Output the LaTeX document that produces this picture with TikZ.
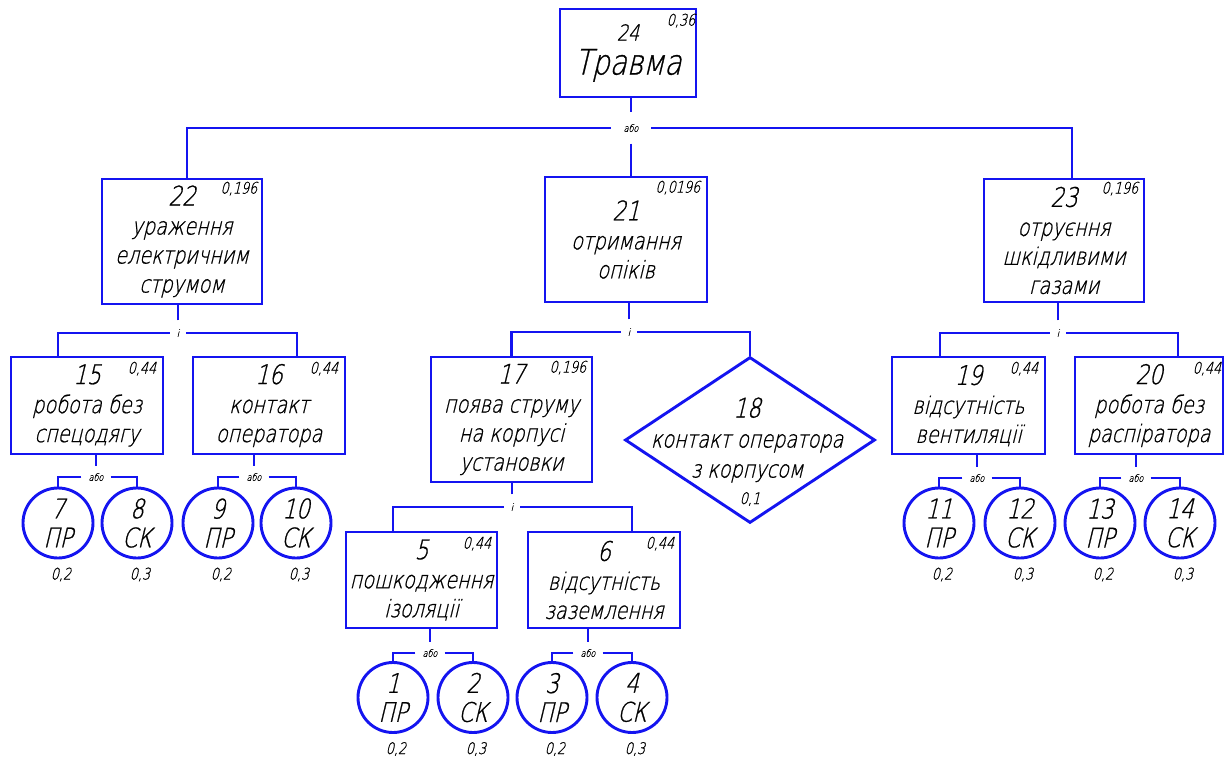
\documentclass[tikz,border=0pt]{standalone}
\usepackage{fontspec}
\setmainfont{DejaVu Sans ExtraLight}[FakeSlant=0.24,FakeStretch=0.8,FakeBold=0.8]
\usetikzlibrary{shapes.geometric,calc}
\definecolor{lineblue}{RGB}{20,20,240}
\newcommand{\numf}{\fontsize{27}{29}\selectfont}
\tikzset{
  box/.style={draw=lineblue, line width=2.9pt, rectangle, inner sep=0pt, align=center, font=\fontsize{24}{29}\selectfont},
  ev/.style={draw=lineblue, line width=2.9pt, circle, minimum size=70pt, inner sep=0pt, align=center, font=\fontsize{27}{29}\selectfont},
  diam/.style={draw=lineblue, line width=2.9pt, diamond, minimum width=250pt, minimum height=166pt, inner sep=0pt},
  txt/.style={align=center, inner sep=0pt, font=\fontsize{24}{30}\selectfont},
  prob/.style={font=\fontsize{16}{16}\selectfont, inner sep=0pt},
  gor/.style={font=\fontsize{10}{10}\selectfont, inner sep=0pt, minimum width=29pt, minimum height=22pt},
  gortop/.style={font=\fontsize{10}{10}\selectfont, inner sep=0pt, minimum width=40pt, minimum height=31pt},
  gand/.style={font=\fontsize{10}{10}\selectfont, inner sep=0pt, minimum width=16pt, minimum height=25pt},
  conn/.style={draw=lineblue, line width=2.9pt},
}
\begin{document}
\begin{tikzpicture}[x=1pt,y=-1pt]
\useasboundingbox (0,0) rectangle (1229,757);

% ---------- level 0 ----------
\node[box, minimum width=136pt, minimum height=88pt] (b24) at (628,53)
  {{\fontsize{22}{22}\selectfont 24}\\[5pt]{\fontsize{35}{35}\selectfont Травма}};
\node[prob, anchor=north east] (p24) at ([shift={(-2,6)}]b24.north east) {0,36};
\node[gortop] (or1) at (631,128) {або};

% ---------- level 1 ----------
\node[box, minimum width=160pt, minimum height=125pt] (b22) at (182,241.5)
  {{\numf 22}\\ураження\\електричним\\струмом};
\node[prob, anchor=north east] (p22) at ([shift={(-6,4)}]b22.north east) {0,196};
\node[box, minimum width=162pt, minimum height=125pt] (b21) at (626,239.5)
  {{\numf 21}\\отримання\\опіків};
\node[prob, anchor=north east] (p21) at ([shift={(-8,5)}]b21.north east) {0,0196};
\node[box, minimum width=160pt, minimum height=123pt] (b23) at (1064,240.5)
  {{\numf 23}\\отруєння\\шкідливими\\газами};
\node[prob, anchor=north east] (p23) at ([shift={(-7,4)}]b23.north east) {0,196};

\draw[conn] (or1.north |- b24.south) -- (or1.north);
\draw[conn] (or1.west) -| ([xshift=5pt]b22.north);
\draw[conn] (or1.east) -| ([xshift=8pt]b23.north);
\draw[conn] (or1.south) -- (or1.south |- b21.north);

% ---------- branch 22 ----------
\node[gand] (i1) at (178,333) {і};
\node[box, minimum width=152pt, minimum height=97pt] (b15) at (87,405.5)
  {{\numf 15}\\робота без\\спецодягу};
\node[prob, anchor=north east] (p15) at ([shift={(-8,6)}]b15.north east) {0,44};
\node[box, minimum width=152pt, minimum height=97pt] (b16) at (269,405.5)
  {{\numf 16}\\контакт\\оператора};
\node[prob, anchor=north east] (p16) at ([shift={(-8,6)}]b16.north east) {0,44};
\draw[conn] (i1.north) -- (i1.north |- b22.south);
\draw[conn] (i1.west) -| ([xshift=-29pt]b15.north);
\draw[conn] (i1.east) -| ([xshift=28pt]b16.north);

\node[gor] (o15) at (96,477) {або};
\node[ev] (c7) at (58,523) {7\\ПР};
\node[ev] (c8) at (137,523) {8\\СК};
\draw[conn] (o15.north) -- (o15.north |- b15.south);
\draw[conn] (o15.west) -| (c7.north);
\draw[conn] (o15.east) -| (c8.north);
\node[prob, anchor=north] (q7) at ([shift={(3,8)}]c7.south) {0,2};
\node[prob, anchor=north] (q8) at ([shift={(3,8)}]c8.south) {0,3};

\node[gor] (o16) at (254,477) {або};
\node[ev] (c9) at (218,523) {9\\ПР};
\node[ev] (c10) at (296,523) {10\\СК};
\draw[conn] (o16.north) -- (o16.north |- b16.south);
\draw[conn] (o16.west) -| (c9.north);
\draw[conn] (o16.east) -| (c10.north);
\node[prob, anchor=north] (q9) at ([shift={(3,8)}]c9.south) {0,2};
\node[prob, anchor=north] (q10) at ([shift={(3,8)}]c10.south) {0,3};

% ---------- branch 21 ----------
\node[gand] (i2) at (629,332) {і};
\node[box, minimum width=161pt, minimum height=125pt] (b17) at (511.5,419.5)
  {{\numf 17}\\поява струму\\на корпусі\\установки};
\node[prob, anchor=north east] (p17) at ([shift={(-7,5)}]b17.north east) {0,196};
\node[diam] (d18) at (750,440) {};
\node[txt] (t18) at (747,440) {{\numf 18}\\контакт оператора\\з корпусом};
\node[prob] (p18) at (750,499) {0,1};
\draw[conn] (i2.north) -- (i2.north |- b21.south);
\draw[conn] (i2.west) -| (b17.north);
\draw[conn] (i2.east) -| (d18.north);

\node[gand] (i3) at (512,507) {і};
\node[box, minimum width=151pt, minimum height=96pt] (b5) at (421.5,580)
  {{\numf 5}\\пошкодження\\ізоляції};
\node[prob, anchor=north east] (p5) at ([shift={(-7,6)}]b5.north east) {0,44};
\node[box, minimum width=152pt, minimum height=96pt] (b6) at (604,580)
  {{\numf 6}\\відсутність\\заземлення};
\node[prob, anchor=north east] (p6) at ([shift={(-7,6)}]b6.north east) {0,44};
\draw[conn] (i3.north) -- (i3.north |- b17.south);
\draw[conn] (i3.west) -| ([xshift=-28.5pt]b5.north);
\draw[conn] (i3.east) -| ([xshift=28pt]b6.north);

\node[gor] (o5) at (430,653) {або};
\node[ev] (c1) at (393,697.5) {1\\ПР};
\node[ev] (c2) at (473,697.5) {2\\СК};
\draw[conn] (o5.north) -- (o5.north |- b5.south);
\draw[conn] (o5.west) -| (c1.north);
\draw[conn] (o5.east) -| (c2.north);
\node[prob, anchor=north] (q1) at ([shift={(3,8)}]c1.south) {0,2};
\node[prob, anchor=north] (q2) at ([shift={(3,8)}]c2.south) {0,3};

\node[gor] (o6) at (588,653) {або};
\node[ev] (c3) at (552,697.5) {3\\ПР};
\node[ev] (c4) at (632,697.5) {4\\СК};
\draw[conn] (o6.north) -- (o6.north |- b6.south);
\draw[conn] (o6.west) -| (c3.north);
\draw[conn] (o6.east) -| (c4.north);
\node[prob, anchor=north] (q3) at ([shift={(3,8)}]c3.south) {0,2};
\node[prob, anchor=north] (q4) at ([shift={(3,8)}]c4.south) {0,3};

% ---------- branch 23 ----------
\node[gand] (i4) at (1058,333) {і};
\node[box, minimum width=153pt, minimum height=97pt] (b19) at (968.5,405.5)
  {{\numf 19}\\відсутність\\вентиляції};
\node[prob, anchor=north east] (p19) at ([shift={(-8,6)}]b19.north east) {0,44};
\node[box, minimum width=148pt, minimum height=97pt] (b20) at (1149,405.5)
  {{\numf 20}\\робота без\\распіратора};
\node[prob, anchor=north east] (p20) at ([shift={(-3,6)}]b20.north east) {0,44};
\draw[conn] (i4.north) -- (i4.north |- b23.south);
\draw[conn] (i4.west) -| ([xshift=-28.5pt]b19.north);
\draw[conn] (i4.east) -| ([xshift=29pt]b20.north);

\node[gor] (o19) at (977,478) {або};
\node[ev] (c11) at (939,523) {11\\ПР};
\node[ev] (c12) at (1020,523) {12\\СК};
\draw[conn] (o19.north) -- (o19.north |- b19.south);
\draw[conn] (o19.west) -| (c11.north);
\draw[conn] (o19.east) -| (c12.north);
\node[prob, anchor=north] (q11) at ([shift={(3,8)}]c11.south) {0,2};
\node[prob, anchor=north] (q12) at ([shift={(3,8)}]c12.south) {0,3};

\node[gor] (o20) at (1136,478) {або};
\node[ev] (c13) at (1100,523) {13\\ПР};
\node[ev] (c14) at (1180,523) {14\\СК};
\draw[conn] (o20.north) -- (o20.north |- b20.south);
\draw[conn] (o20.west) -| (c13.north);
\draw[conn] (o20.east) -| (c14.north);
\node[prob, anchor=north] (q13) at ([shift={(3,8)}]c13.south) {0,2};
\node[prob, anchor=north] (q14) at ([shift={(3,8)}]c14.south) {0,3};
\end{tikzpicture}
\end{document}
